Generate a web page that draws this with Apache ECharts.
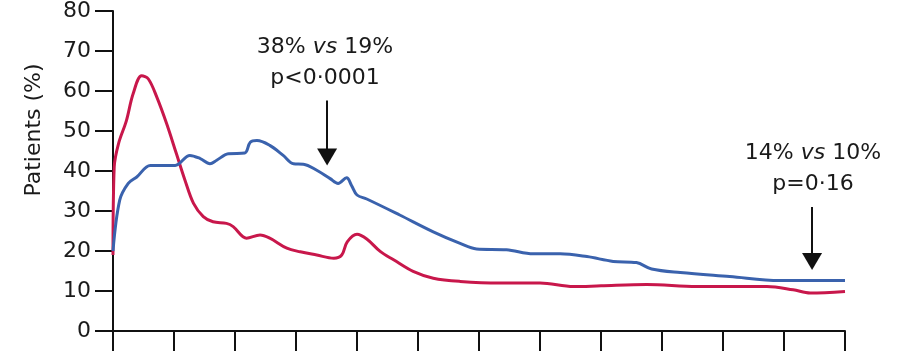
<!DOCTYPE html>
<html>
<head>
<meta charset="utf-8">
<script src="https://cdn.jsdelivr.net/npm/echarts@6/dist/echarts.min.js"></script>
<style>
html,body{margin:0;padding:0;background:#fff;}
#chart{width:897px;height:351px;}
</style>
</head>
<body>
<div id="chart"></div>
<script>
// y-axis ticks
const yTicks = [0, 10, 20, 30, 40, 50, 60, 70, 80];
// red curve: [x (axis units 0-12), patients %]
const redSeries = [[0,19],[0.02,41],[0.09,46.8],[0.22,52.6],[0.33,59.3],[0.47,63.8],[0.58,63],[0.72,58.4],[0.88,51.8],[1.04,44.3],[1.18,37.7],[1.32,31.9],[1.48,28.6],[1.64,27.3],[1.86,26.9],[1.97,26.1],[2.19,23.2],[2.41,24],[2.57,23.2],[2.85,20.7],[3.07,19.8],[3.34,19],[3.62,18.2],[3.75,19],[3.84,22.3],[4.0,24.2],[4.16,23],[4.38,19.9],[4.6,17.8],[4.92,14.9],[5.25,13.2],[5.69,12.4],[6.34,12],[7.0,12],[7.55,11.1],[8.0,11.3],[8.75,11.6],[9.57,11.1],[10.72,11.1],[11.15,10.3],[11.43,9.5],[12,9.9]];
// blue curve
const blueSeries = [[0,20],[0.11,32.7],[0.25,36.9],[0.39,38.5],[0.61,41.4],[0.77,41.4],[1.02,41.4],[1.26,43.9],[1.43,43.1],[1.59,41.8],[1.70,42.7],[1.89,44.3],[2.16,44.5],[2.25,47.2],[2.36,47.6],[2.57,46.4],[2.79,43.9],[2.96,41.8],[3.12,41.7],[3.34,40.2],[3.56,38.1],[3.69,36.9],[3.83,38.3],[3.91,36.4],[4.0,34],[4.16,33],[4.7,29],[5.25,24.8],[5.69,21.9],[5.96,20.5],[6.45,20.3],[6.89,19.3],[7.33,19.3],[7.77,18.6],[8.2,17.4],[8.58,17.1],[8.83,15.5],[9.3,14.6],[10.11,13.6],[10.93,12.6],[12,12.6]];
// annotations
const annoText = [
  {x: 3.475, y: 67.0, a: '38% ', vs: 'vs', b: ' 19%', p: 'p<0·0001'},
  {x: 11.475, y: 40.6, a: '14% ', vs: 'vs', b: ' 10%', p: 'p=0·16'}
];
const arrows = [
  {x: 3.51, from: 57.6, to: 43.5},
  {x: 11.46, from: 31, to: 17.4}
];

const FONT = 'DejaVu Sans';
const TXT = '#1a1a1a';
const chart = echarts.init(document.getElementById('chart'));
chart.setOption({
  animation: false,
  backgroundColor: '#fff',
  grid: {left: 113, right: 52, top: 10, bottom: 20},
  xAxis: {
    type: 'value', min: 0, max: 12, interval: 1,
    axisLine: {show: true, lineStyle: {color: '#111', width: 2}},
    axisTick: {show: true, length: 22, lineStyle: {color: '#111', width: 2}},
    axisLabel: {show: false},
    splitLine: {show: false}
  },
  yAxis: {
    type: 'value', min: yTicks[0], max: yTicks[yTicks.length-1], interval: 10,
    axisLine: {show: true, lineStyle: {color: '#111', width: 2}},
    axisTick: {show: true, length: 18, lineStyle: {color: '#111', width: 2}},
    axisLabel: {fontFamily: FONT, fontSize: 22, color: TXT, margin: 22},
    splitLine: {show: false}
  },
  graphic: [{
    type: 'text', x: 34, y: 130, rotation: Math.PI/2,
    style: {text: 'Patients (%)', fontFamily: FONT, fontSize: 22, fill: TXT, align: 'center', verticalAlign: 'middle'}
  }],
  series: [
    {
      type: 'line', data: redSeries, showSymbol: false, smooth: 0.35,
      lineStyle: {color: '#c8174b', width: 3}, itemStyle: {color: '#c8174b'}, z: 3
    },
    {
      type: 'line', data: blueSeries, showSymbol: false, smooth: 0.35,
      lineStyle: {color: '#3a62ad', width: 3}, itemStyle: {color: '#3a62ad'}, z: 4,
      markLine: {
        silent: true, symbol: ['none', 'triangle'], symbolSize: [20, 17],
        label: {show: false},
        lineStyle: {color: '#111', width: 2, type: 'solid'},
        data: arrows.map(a => [{coord: [a.x, a.from]}, {coord: [a.x, a.to]}])
      },
      markPoint: {
        silent: true, symbol: 'circle', symbolSize: 0,
        data: annoText.map(t => ({
          coord: [t.x, t.y],
          label: {
            show: true, position: 'inside', align: 'center', verticalAlign: 'middle',
            formatter: t.a + '{i|' + t.vs + '}' + t.b + '\n' + t.p,
            fontFamily: FONT, fontSize: 22, color: TXT, lineHeight: 31,
            rich: {i: {fontFamily: FONT, fontSize: 22, fontStyle: 'italic', color: TXT, lineHeight: 31}}
          }
        }))
      }
    }
  ]
});
</script>
</body>
</html>
